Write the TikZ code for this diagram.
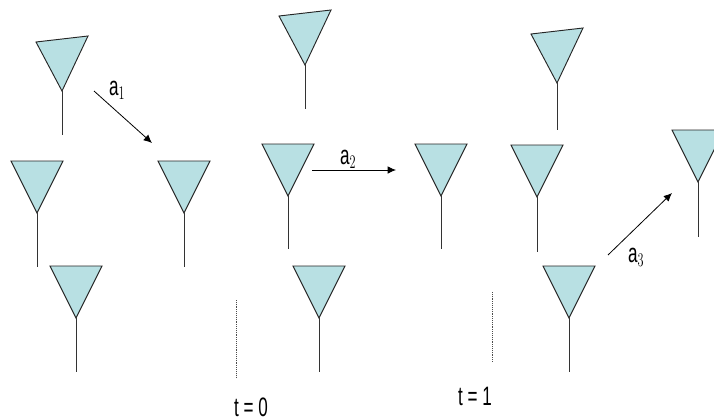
\documentclass[tikz,border=0pt]{standalone}
\usepackage{fontspec}
\setmainfont{Liberation Sans}
\usepackage{xcolor}
\usetikzlibrary{arrows.meta}
\definecolor{dishfill}{HTML}{B8E0E3}

\begin{document}
\begin{tikzpicture}[
    x=0.75pt, y=-0.75pt,
    dish/.style={draw=black!85, fill=dishfill, line width=0.7pt, line join=miter},
    stem/.style={draw=black!80, line width=0.7pt},
    fl/.style={-{Latex[length=2.2mm, width=2mm]}, line width=0.6pt},
    sep/.style={draw=black!70, densely dotted, line width=0.4pt},
    lab/.style={font=\fontsize{20}{22}\selectfont, xscale=0.64, inner sep=0pt},
]
    \clip (0,0) rectangle (714,418);
    % x, y of the tip, stem length, rise of the right corner
    \foreach \n/\x/\y/\l/\r in {
        a/62/91/44/6, b/37/213/54/0, c/76/318/54/0, d/184/213/54/0,
        e/305/65/44/6, f/288/196/53/0, g/319/318/54/0, h/441/196/53/0,
        i/557/83/47/6, j/537/197/55/0, k/569/318/54/0, m/698/182/55/0} {
        \coordinate (\n tip) at (\x,\y);
        \coordinate (\n end) at (\x,\y+\l);
        \draw[dish] (\n tip) -- (\x-26,\y-52+\r/2) -- (\x+26,\y-52-\r/2) -- cycle;
        \draw[stem] (\n tip) -- (\n end);
    }

    \coordinate (from1) at (94,91);
    \coordinate (to1) at (152,143);
    \coordinate (from2) at (312,170);
    \coordinate (to2) at (396,170);
    \coordinate (from3) at (608,255);
    \coordinate (to3) at (672,193);
    \draw[fl] (from1) -- (to1);
    \draw[fl] (from2) -- (to2);
    \draw[fl] (from3) -- (to3);

    \node[lab] (l1) at (117,90) {a$_1$};
    \node[lab] (l2) at (348,159) {a$_2$};
    \node[lab] (l3) at (636,257) {a$_3$};

    \coordinate (s1) at (236,300);
    \coordinate (s2) at (236,378);
    \coordinate (s3) at (492,292);
    \coordinate (s4) at (492,362);
    \draw[sep] (s1) -- (s2);
    \draw[sep] (s3) -- (s4);

    \node[lab] (t0) at (251,407) {t = 0};
    \node[lab] (t1) at (475,396) {t = 1};
\end{tikzpicture}
\end{document}
